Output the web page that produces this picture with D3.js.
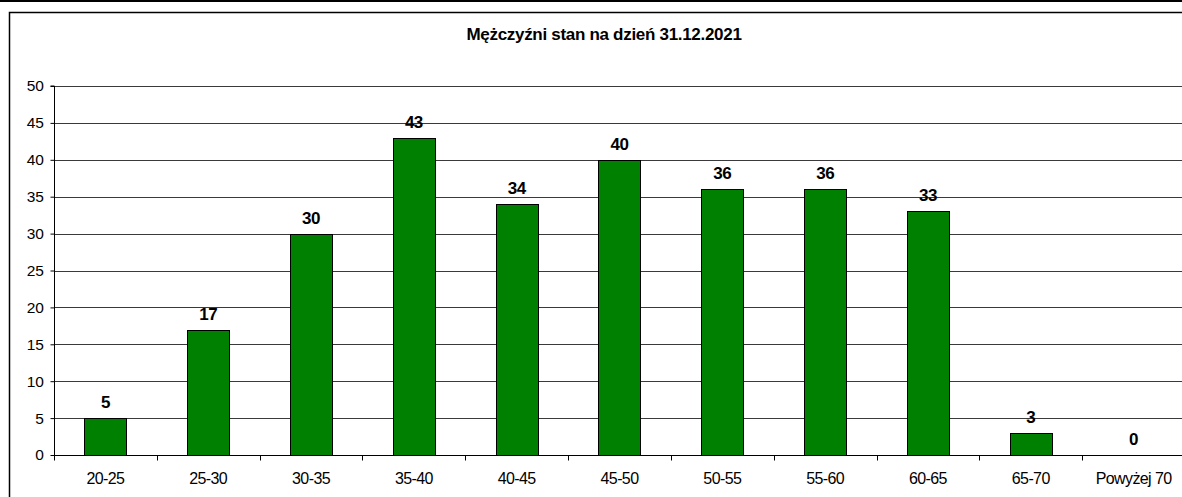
<!DOCTYPE html>
<html><head><meta charset="utf-8">
<script src="https://cdn.jsdelivr.net/npm/d3@7"></script>
<style>
html,body{margin:0;padding:0;background:#fff;overflow:hidden;}
svg{display:block;font-family:Arial,"Liberation Sans",sans-serif;}
</style></head>
<body>
<script>
const categories = ["20-25","25-30","30-35","35-40","40-45","45-50","50-55","55-60","60-65","65-70","Powyżej 70"];
const values = [5,17,30,43,34,40,36,36,33,3,0];
const yTicks = [0,5,10,15,20,25,30,35,40,45,50];
const title = "Mężczyźni stan na dzień 31.12.2021";

(function(){
const W = 1182, H = 497;
const svg = d3.select("body").append("svg").attr("width", W).attr("height", H);

svg.append("line").attr("x1",0).attr("x2",W).attr("y1",1).attr("y2",1).attr("stroke","#000").attr("stroke-width",2);
svg.append("path").attr("d",`M9.5,${H}V12.5H${W}`)
  .attr("fill","none").attr("stroke","#000").attr("stroke-width",1.5);

const pL = 54, pR = 1185, pT = 86, pB = 455;
const x = d3.scaleBand().domain(categories).range([pL, pR]).paddingInner(0).paddingOuter(0);
const y = d3.scaleLinear().domain([0,50]).range([pB, pT]);

svg.append("g").selectAll("line").data(yTicks.filter(d=>d>0)).join("line")
  .attr("x1", pL).attr("x2", W)
  .attr("y1", d=>Math.round(y(d))+0.5).attr("y2", d=>Math.round(y(d))+0.5)
  .attr("stroke","#3a3a3a").attr("stroke-width",1);

svg.append("text").attr("x",604).attr("y",40).attr("text-anchor","middle")
  .attr("font-size",17).attr("font-weight","bold").attr("letter-spacing","-0.3px").text(title);

const bw = x.bandwidth()*0.41;
svg.append("g").selectAll("rect").data(values).join("rect")
  .attr("x",(d,i)=>Math.round(x(categories[i]) + x.bandwidth()/2 - bw/2)+0.5)
  .attr("y",d=>Math.round(y(d))+0.5)
  .attr("width",Math.round(bw))
  .attr("height",d=>Math.max(0, Math.round(y(0))-Math.round(y(d))))
  .attr("fill","#008000").attr("stroke","#000").attr("stroke-width",1)
  .attr("display",d=>d>0?null:"none");

svg.append("g").selectAll("text").data(values).join("text")
  .attr("x",(d,i)=>x(categories[i]) + x.bandwidth()/2)
  .attr("y",d=>y(d)-10)
  .attr("text-anchor","middle").attr("font-size",17).attr("font-weight","bold")
  .attr("letter-spacing","-0.5px")
  .text(d=>d);

const yAxis = d3.axisLeft(y).tickValues(yTicks).tickSize(4).tickPadding(7);
const gy = svg.append("g").attr("transform",`translate(${pL+0.5},0)`).call(yAxis);
gy.select(".domain").attr("stroke","#000").attr("d",`M-4,${y(50)}H0V${y(0)}`);
gy.selectAll("text").attr("font-size",15.5).attr("font-family","Arial,'Liberation Sans',sans-serif").attr("fill","#000").attr("letter-spacing","-0.3px");
gy.selectAll(".tick line").attr("stroke","#000");

const gx = svg.append("g").attr("transform",`translate(0,${Math.round(y(0))+0.5})`);
gx.append("line").attr("x1",pL).attr("x2",W).attr("stroke","#000");
const bounds = d3.range(categories.length+1).map(i=>pL + i*x.bandwidth());
gx.selectAll(".tk").data(bounds).join("line").attr("class","tk")
  .attr("x1",d=>Math.round(d)+0.5).attr("x2",d=>Math.round(d)+0.5).attr("y1",0).attr("y2",5).attr("stroke","#000");
gx.selectAll("text.lbl").data(categories).join("text").attr("class","lbl")
  .attr("x",d=>x(d)+x.bandwidth()/2).attr("y",28)
  .attr("text-anchor","middle").attr("font-size",16).attr("letter-spacing","-0.6px").attr("fill","#000")
  .text(d=>d);
})();
</script>
</body></html>
